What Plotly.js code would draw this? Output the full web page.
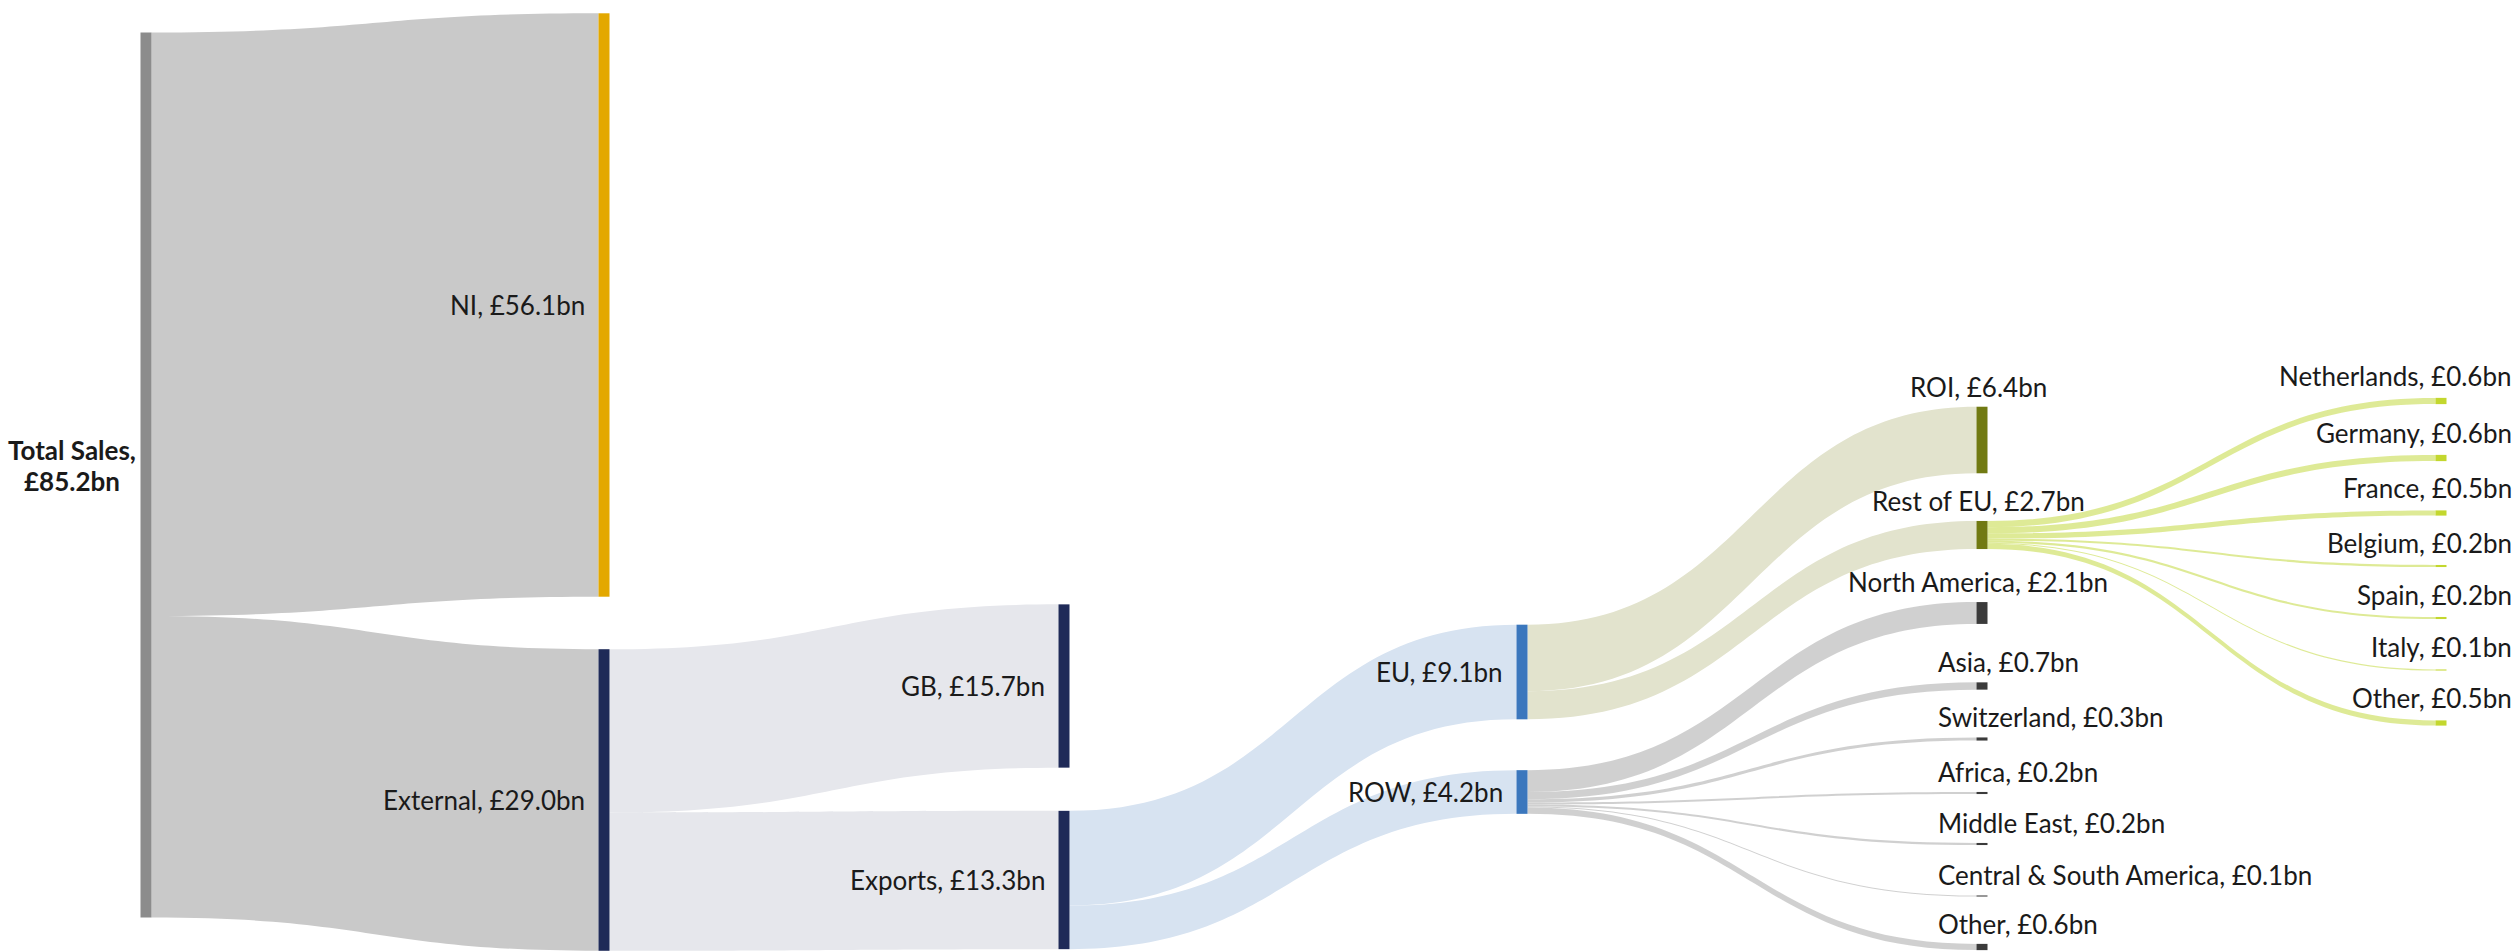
<!DOCTYPE html>
<html>
<head>
<meta charset="utf-8">
<script src="https://cdn.plot.ly/plotly-3.0.1.min.js"></script>
<style>html,body{margin:0;padding:0;background:#fff;}#chart{width:2514px;height:952px;}</style>
</head>
<body>
<div id="chart"></div>
<script>
// ---- data ----
const nodeNames = ['Total Sales','NI','External','GB','Exports','EU','ROW','ROI','Rest of EU',
  'North America','Asia','Switzerland','Africa','Middle East','Central & South America','Other',
  'Netherlands','Germany','France','Belgium','Spain','Italy','Other'];
const nodeValues = [85.2,56.1,29.0,15.7,13.3,9.1,4.2,6.4,2.7,2.1,0.7,0.3,0.2,0.2,0.1,0.6,0.6,0.6,0.5,0.2,0.2,0.1,0.5];
const linkSource = [0,0,2,2,4,4,5,5,6,6,6,6,6,6,6,8,8,8,8,8,8,8];
const linkTarget = [1,2,3,4,5,6,7,8,9,10,11,12,13,14,15,16,17,18,19,20,21,22];

// ---- layout / styling ----
const W = 2514, H = 952, PAD = 67, THICK = 11, FS = 26;
const colX = [146, 604, 1064, 1522, 1982, 2441];
const nodeCol = [0,1,1,2,2,3,3,4,4,4,4,4,4,4,4,4,5,5,5,5,5,5,5];
const nodeYpx = [475, 305, 800, 686, 880, 672, 792, 440, 535, 613, 686, 739, 793, 844, 896, 947,
  401, 458, 513, 566, 618, 670, 723];
const nodeColors = ['#8c8c8c','#e3a800','#1f2a58','#1f2a58','#1f2a58','#3b77bd','#3b77bd',
  '#717a12','#717a12','#3b3b3b','#3b3b3b','#3b3b3b','#3b3b3b','#3b3b3b','#3b3b3b','#3b3b3b',
  '#c3d72e','#c3d72e','#c3d72e','#c3d72e','#c3d72e','#c3d72e','#c3d72e'];
const linkColorBySource = {0:'#c9c9c9', 2:'#e6e7ec', 4:'#d7e3f1', 5:'#e2e3cd', 6:'rgba(196,196,196,0.8)', 8:'rgba(200,220,80,0.6)'};
// label placement: T = two-line bold title left of node, L = right-aligned left of node,
// C = centred above, A = left-aligned above, R = right edge above
const labelStyle = ['T','L','L','L','L','L','L','C','C','C','A','A','A','A','A','A','R','R','R','R','R','R','R'];

const linkValues = linkTarget.map(t => nodeValues[t]);
const linkColors = linkSource.map(s => linkColorBySource[s]);

// node scale as computed by the sankey (column with NI + External is limiting)
const colSum = {};
linkTarget.forEach((t,i) => { colSum[nodeCol[t]] = (colSum[nodeCol[t]]||0) + linkValues[i]; });
const ky = (H - PAD) / colSum[1];

const font = {family: 'Lato, sans-serif', size: FS, color: '#1a1a1a'};
function ann(text, x, y, xa) {
  return {text: text, x: x / W, y: 1 - y / H, xref: 'paper', yref: 'paper',
    xanchor: xa, yanchor: 'middle', showarrow: false, align: 'center', font: font};
}
const annotations = [];
nodeNames.forEach((name, i) => {
  const valTxt = '£' + nodeValues[i].toFixed(1) + 'bn';
  const txt = name + ', ' + valTxt;
  const cx = colX[nodeCol[i]], cy = nodeYpx[i];
  const half = (linkValues[linkTarget.indexOf(i)] || nodeValues[i]) * ky / 2;
  const st = labelStyle[i];
  if (st === 'T') {
    const xc = (cx - THICK / 2) / 2 + 2;
    annotations.push(ann('<b>' + name + ',</b>', xc, cy - 25, 'center'));
    annotations.push(ann('<b>' + valTxt + '</b>', xc, cy + 6, 'center'));
  }
  else if (st === 'L') annotations.push(ann(txt, cx - THICK/2 - 12, cy, 'right'));
  else if (st === 'C') annotations.push(ann(txt, cx - 4, cy - half - 20, 'center'));
  else if (st === 'A') annotations.push(ann(txt, cx - 46, cy - half - 20, 'left'));
  else annotations.push(ann(txt, W, cy - half - 22, 'right'));
});

const trace = {
  type: 'sankey',
  arrangement: 'fixed',
  domain: {x: [0, 1], y: [0, 1]},
  node: {
    label: nodeNames.map(() => ''),
    x: nodeCol.map(c => colX[c] / W),
    y: nodeYpx.map(v => v / H),
    color: nodeColors,
    pad: PAD,
    thickness: THICK,
    align: 'left',
    line: {width: 0}
  },
  link: {
    source: linkSource,
    target: linkTarget,
    value: linkValues,
    color: linkColors
  },
  hoverinfo: 'none'
};

Plotly.newPlot('chart', [trace], {
  width: W, height: H,
  margin: {l: 0, r: 0, t: 0, b: 0},
  paper_bgcolor: '#ffffff',
  font: font,
  annotations: annotations,
  showlegend: false
}, {staticPlot: true});
</script>
</body>
</html>
